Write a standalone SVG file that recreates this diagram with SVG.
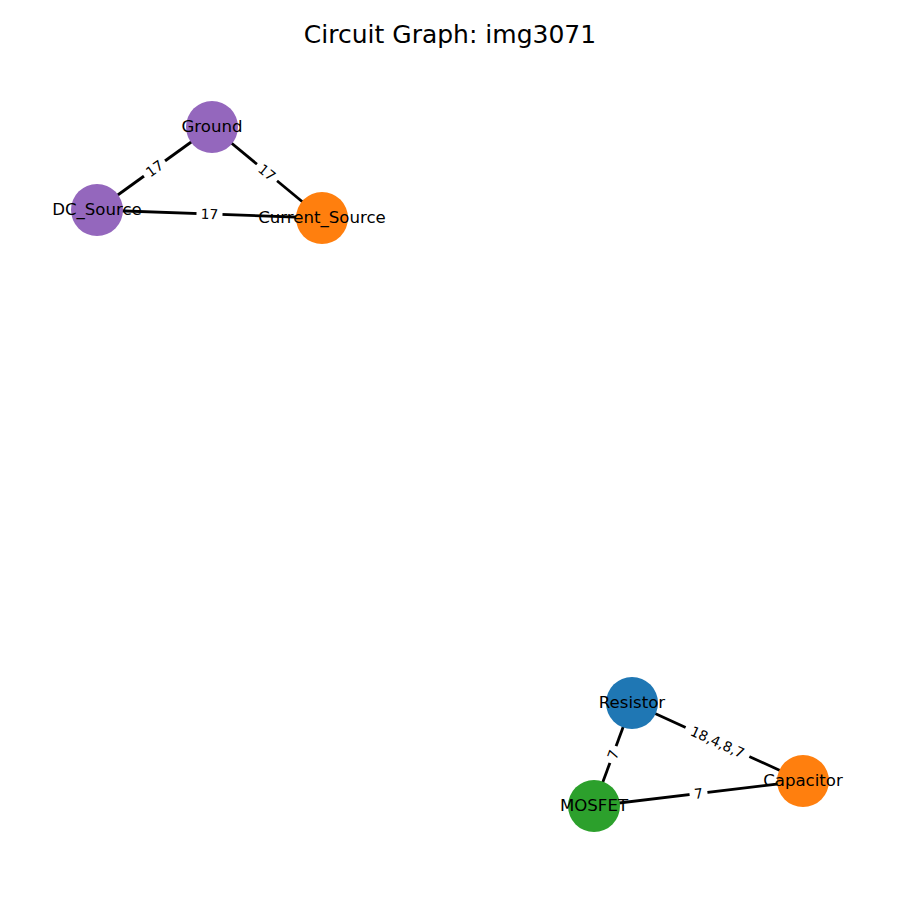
<svg xmlns="http://www.w3.org/2000/svg" width="900" height="900" viewBox="0 0 900 900">
  <style>
    text { font-family: "DejaVu Sans", "Liberation Sans", sans-serif; fill: #000; }
    .title { font-size: 25px; text-anchor: middle; }
    .node-label { font-size: 16.6px; text-anchor: middle; dominant-baseline: central; }
    .edge { stroke: #000; stroke-width: 2.8; fill: none; }
    .edge-label { font-size: 13.9px; text-anchor: middle; dominant-baseline: central; }
    .label-bg { fill: #fff; stroke: none; }
  </style>
  <rect width="900" height="900" fill="#fff"/>
  <text class="title" x="450" y="43">Circuit Graph: img3071</text>

  <!-- connectors, drawn center to center beneath the nodes -->
  <g id="edges">
    <line class="edge" x1="97" y1="210" x2="212" y2="127"/>
    <line class="edge" x1="212" y1="127" x2="322" y2="218"/>
    <line class="edge" x1="97" y1="210" x2="322" y2="218"/>
    <line class="edge" x1="632" y1="703" x2="803" y2="781"/>
    <line class="edge" x1="632" y1="703" x2="594" y2="806"/>
    <line class="edge" x1="594" y1="806" x2="803" y2="781"/>

    <g transform="translate(154.5,168.5) rotate(-35.8)">
      <rect class="label-bg" x="-13" y="-10" width="26" height="20" rx="3"/>
      <text class="edge-label" x="0" y="0">17</text>
    </g>
    <g transform="translate(267,172.5) rotate(39.6)">
      <rect class="label-bg" x="-13" y="-10" width="26" height="20" rx="3"/>
      <text class="edge-label" x="0" y="0">17</text>
    </g>
    <g transform="translate(209.5,214) rotate(2)">
      <rect class="label-bg" x="-13" y="-10" width="26" height="20" rx="3"/>
      <text class="edge-label" x="0" y="0">17</text>
    </g>
    <g transform="translate(717.5,742) rotate(24.5)">
      <rect class="label-bg" x="-35" y="-10" width="70" height="20" rx="3"/>
      <text class="edge-label" x="0" y="0">18,4,8,7</text>
    </g>
    <g transform="translate(613,754.5) rotate(-69.7)">
      <rect class="label-bg" x="-9" y="-10" width="18" height="20" rx="3"/>
      <text class="edge-label" x="0" y="0">7</text>
    </g>
    <g transform="translate(698.5,793.5) rotate(-6.8)">
      <rect class="label-bg" x="-9" y="-10" width="18" height="20" rx="3"/>
      <text class="edge-label" x="0" y="0">7</text>
    </g>
  </g>

  <g id="node-ground">
    <circle cx="212" cy="127" r="26" fill="#9467bd"/>
    <text class="node-label" x="212" y="126">Ground</text>
  </g>
  <g id="node-dc-source">
    <circle cx="97" cy="210" r="26" fill="#9467bd"/>
    <text class="node-label" x="97" y="209">DC_Source</text>
  </g>
  <g id="node-current-source">
    <circle cx="322" cy="218" r="26" fill="#ff7f0e"/>
    <text class="node-label" x="322" y="217">Current_Source</text>
  </g>
  <g id="node-resistor">
    <circle cx="632" cy="703" r="26" fill="#1f77b4"/>
    <text class="node-label" x="632" y="702">Resistor</text>
  </g>
  <g id="node-mosfet">
    <circle cx="594" cy="806" r="26" fill="#2ca02c"/>
    <text class="node-label" x="594" y="805">MOSFET</text>
  </g>
  <g id="node-capacitor">
    <circle cx="803" cy="781" r="26" fill="#ff7f0e"/>
    <text class="node-label" x="803" y="780">Capacitor</text>
  </g>
</svg>
